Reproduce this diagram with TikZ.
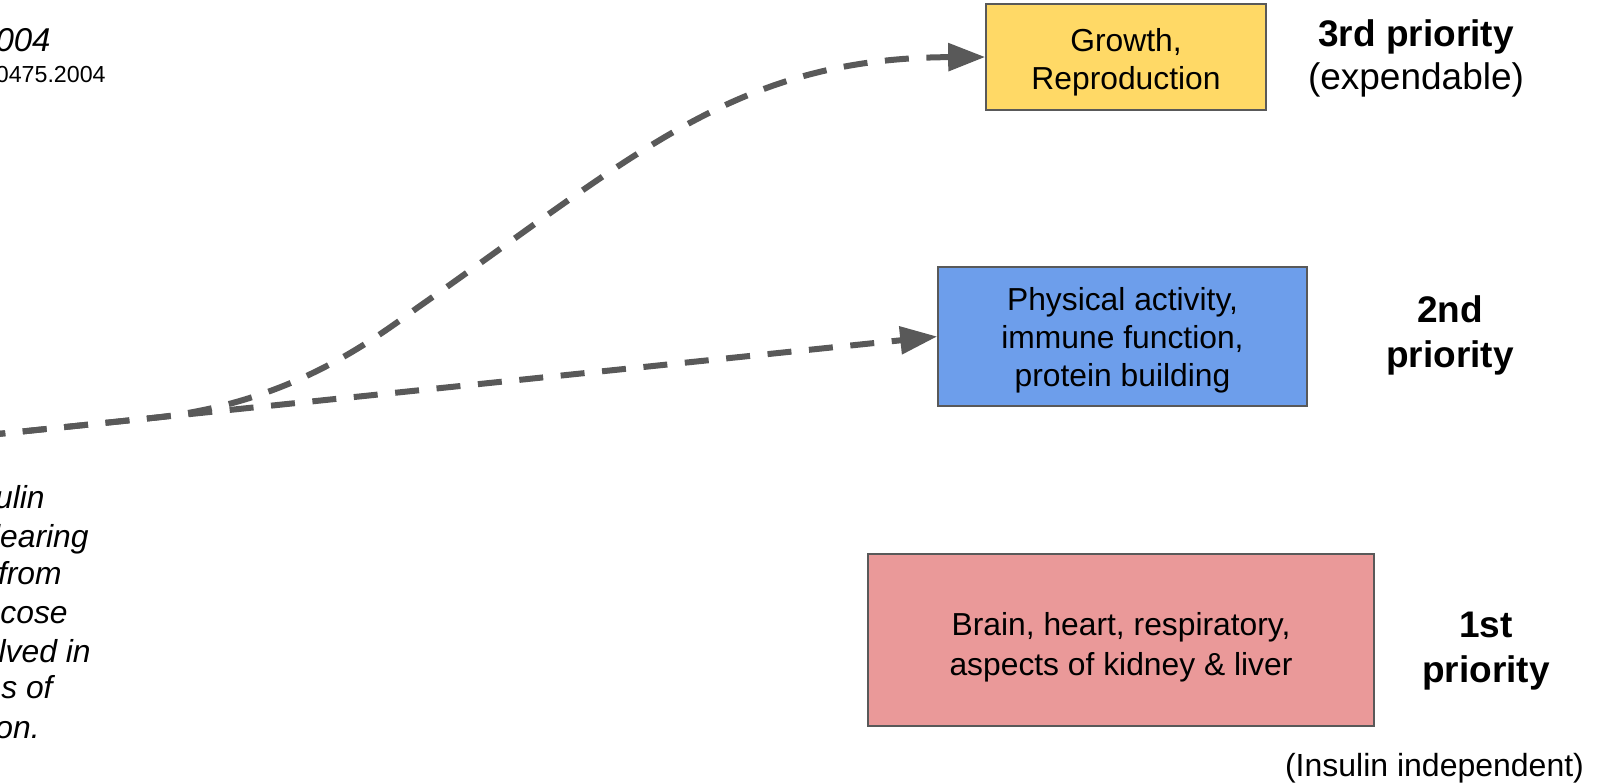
\documentclass[tikz,border=0pt]{standalone}
\usepackage{fontspec}
\setmainfont{Liberation Sans}
\usetikzlibrary{arrows.meta}

\definecolor{growthyellow}{HTML}{FFD966}
\definecolor{activityblue}{HTML}{6D9EEB}
\definecolor{vitalred}{HTML}{EA9999}
\definecolor{linegray}{HTML}{595959}

\begin{document}
\begin{tikzpicture}[
    x=0.5pt, y=-0.5pt,
    need/.style={draw=linegray, line width=0.8pt, rectangle, inner sep=0pt},
    needtext/.style={align=center, inner sep=0pt, font=\fontsize{15.9}{19}\selectfont},
    prio/.style={align=center, font=\fontsize{18.5}{22.5}\selectfont\bfseries},
    flow/.style={draw=linegray, line width=3pt, dash pattern=on 12pt off 8.8pt,
      -{Triangle[length=18.5pt, width=13.5pt]}},
    cut/.style={anchor=base east, inner sep=0pt, font=\fontsize{15.9}{19}\selectfont\itshape},
  ]
  \useasboundingbox (0,0) rectangle (1601,783);
  \clip (0,0) rectangle (1601,783);

  \node[need, fill=growthyellow, minimum width=140pt, minimum height=53pt] (growth) at (1126,57) {};
  \node[needtext, yshift=-2.5pt] (growthtext) at (growth) {Growth,\\Reproduction};
  \node[need, fill=activityblue, minimum width=184.5pt, minimum height=69.5pt] (activity) at (1122.5,336.5) {};
  \node[needtext, yshift=-2pt] (activitytext) at (activity) {Physical activity,\\immune function,\\protein building};
  \node[need, fill=vitalred, minimum width=253pt, minimum height=86pt] (vital) at (1121,640) {};
  \node[needtext, yshift=-3.5pt, font=\fontsize{15.9}{20}\selectfont] (vitaltext) at (vital)
    {Brain, heart, respiratory,\\aspects of kidney \& liver};

  \node[prio, font=\fontsize{18.5}{21.5}\selectfont\bfseries] (third) at (1416,58) {3rd priority\\\mdseries(expendable)};
  \node[prio] (second) at (1450,335) {2nd\\priority};
  \node[prio] (first) at (1486,651) {1st\\priority};
  \node[font=\fontsize{16}{19}\selectfont] (insulin) at (1434.5,768) {(Insulin independent)};

  % notes cut off by the left edge
  \node[cut, font=\fontsize{16.5}{19}\selectfont\itshape] (year) at (51,51) {004};
  \node[cut, font=\fontsize{11.6}{14}\selectfont] (doi) at (106,82) {0475.2004};
  \foreach \frag/\xr/\yb [count=\i] in {ulin/45/508, learing/89/547, from/62/584, ucose/68/623,
      lved in/91/662, s of/53/698, on./40/738}
    \node[cut] (note\i) at (\xr,\yb) {\frag};

  \coordinate (src) at (-60,440);
  \coordinate (fork) at (150,418.2);
  \draw[flow] (src) -- (activity.west);
  \draw[flow] (src) -- (fork) .. controls (280,405) and (360,350) .. (417,308)
    .. controls (637,154) and (736,58) .. (growth.west);
\end{tikzpicture}
\end{document}
